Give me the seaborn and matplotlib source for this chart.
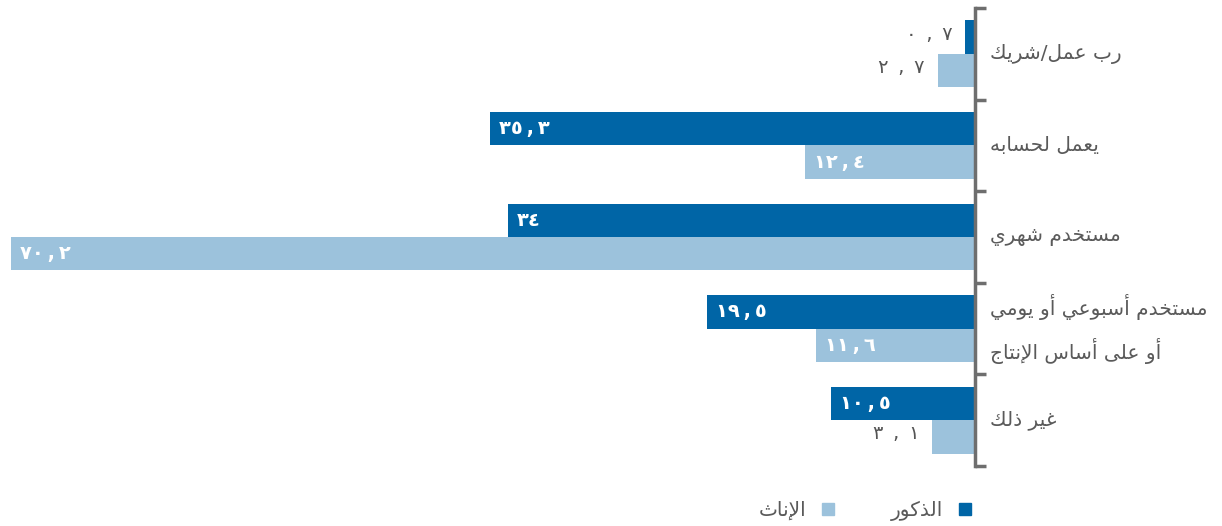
import matplotlib
matplotlib.use("Agg")
import matplotlib.pyplot as plt
import matplotlib.patches as mpatches
import seaborn as sns
import pandas as pd

categories = ["رب عمل/شريك", "يعمل لحسابه", "مستخدم شهري",
              "مستخدم أسبوعي أو يومي\nأو على أساس الإنتاج", "غير ذلك"]
series = ["الذكور", "الإناث"]
male = [0.7, 35.3, 34.0, 19.5, 10.5]
female = [2.7, 12.4, 70.2, 11.6, 3.1]
value_labels_m = ["٠,٧", "٣٥,٣", "٣٤", "١٩,٥", "١٠,٥"]
value_labels_f = ["٢,٧", "١٢,٤", "٧٠,٢", "١١,٦", "٣,١"]

DARK = "#0065a6"
LIGHT = "#9cc2dc"
GRAY = "#6e6e6e"

# minimal arabic shaping: (isolated, final, initial, medial)
FORMS = {
    "ا": (0xFE8D, 0xFE8E, None, None), "أ": (0xFE83, 0xFE84, None, None),
    "إ": (0xFE87, 0xFE88, None, None), "آ": (0xFE81, 0xFE82, None, None),
    "ب": (0xFE8F, 0xFE90, 0xFE91, 0xFE92), "ت": (0xFE95, 0xFE96, 0xFE97, 0xFE98),
    "ث": (0xFE99, 0xFE9A, 0xFE9B, 0xFE9C), "ج": (0xFE9D, 0xFE9E, 0xFE9F, 0xFEA0),
    "ح": (0xFEA1, 0xFEA2, 0xFEA3, 0xFEA4), "خ": (0xFEA5, 0xFEA6, 0xFEA7, 0xFEA8),
    "د": (0xFEA9, 0xFEAA, None, None), "ذ": (0xFEAB, 0xFEAC, None, None),
    "ر": (0xFEAD, 0xFEAE, None, None), "ز": (0xFEAF, 0xFEB0, None, None),
    "س": (0xFEB1, 0xFEB2, 0xFEB3, 0xFEB4), "ش": (0xFEB5, 0xFEB6, 0xFEB7, 0xFEB8),
    "ع": (0xFEC9, 0xFECA, 0xFECB, 0xFECC), "غ": (0xFECD, 0xFECE, 0xFECF, 0xFED0),
    "ك": (0xFED9, 0xFEDA, 0xFEDB, 0xFEDC), "ل": (0xFEDD, 0xFEDE, 0xFEDF, 0xFEE0),
    "م": (0xFEE1, 0xFEE2, 0xFEE3, 0xFEE4), "ن": (0xFEE5, 0xFEE6, 0xFEE7, 0xFEE8),
    "ه": (0xFEE9, 0xFEEA, 0xFEEB, 0xFEEC), "و": (0xFEED, 0xFEEE, None, None),
    "ى": (0xFEEF, 0xFEF0, None, None), "ي": (0xFEF1, 0xFEF2, 0xFEF3, 0xFEF4),
}
LAMALEF = {"آ": (0xFEF5, 0xFEF6), "أ": (0xFEF7, 0xFEF8),
           "إ": (0xFEF9, 0xFEFA), "ا": (0xFEFB, 0xFEFC)}


def joins_next(c):
    return c in FORMS and FORMS[c][2] is not None


def shape_line(text):
    res = []
    i, n = 0, len(text)
    while i < n:
        c = text[i]
        if c not in FORMS:
            res.append(c)
            i += 1
            continue
        prev = text[i - 1] if i > 0 else None
        cp = prev is not None and joins_next(prev)
        if c == "ل" and i + 1 < n and text[i + 1] in LAMALEF:
            lig = LAMALEF[text[i + 1]]
            res.append(chr(lig[1] if cp else lig[0]))
            i += 2
            continue
        nxt = text[i + 1] if i + 1 < n else None
        cn = joins_next(c) and nxt in FORMS
        iso, fin, ini, med = FORMS[c]
        if cp and cn:
            res.append(chr(med))
        elif cp:
            res.append(chr(fin))
        elif cn:
            res.append(chr(ini))
        else:
            res.append(chr(iso))
        i += 1
    return "".join(reversed(res))


def shape(text):
    return "\n".join(shape_line(l) for l in text.split("\n"))


cat_sh = [shape(c) for c in categories]
ser_sh = [shape(s) for s in series]
df = pd.DataFrame({
    "cat": cat_sh * 2,
    "sex": [ser_sh[0]] * 5 + [ser_sh[1]] * 5,
    "value": male + female,
})

sns.set_style("white")
plt.rcParams["font.family"] = ["DejaVu Sans"]

fig = plt.figure(figsize=(12.22, 5.26), dpi=100)
ax = fig.add_axes([11 / 1222, 1 - 466 / 526, 964 / 1222, 458 / 526])
sns.barplot(data=df, y="cat", x="value", hue="sex", orient="h",
            palette=[DARK, LIGHT], width=0.73, ax=ax, saturation=1,
            linewidth=0)
ax.get_legend().remove()
ax.set_xlim(70.2, 0)
ax.set_ylim(4.5, -0.5)
ax.set_xlabel("")
ax.set_ylabel("")
ax.set_xticks([])
for s in ["left", "top", "bottom"]:
    ax.spines[s].set_visible(False)
ax.spines["right"].set_color(GRAY)
ax.spines["right"].set_linewidth(2.5)
ax.yaxis.tick_right()
ax.set_yticks(range(5))
ax.set_yticklabels(cat_sh, fontsize=14.5, color="#5a5a5a", linespacing=1.85,
                   va="center")
ax.tick_params(axis="y", which="major", length=0, pad=11)
ax.set_yticks([i - 0.5 for i in range(6)], minor=True)
ax.tick_params(axis="y", which="minor", length=8, width=2.5, color=GRAY,
               direction="out", right=True, left=False)

for cont, labs in zip(ax.containers, [value_labels_m, value_labels_f]):
    for bar, lab in zip(cont, labs):
        v = bar.get_width()
        yc = bar.get_y() + bar.get_height() / 2
        if v > 5:
            ax.annotate(lab.replace(",", "\u2009,\u2009"), (v, yc), xytext=(9, 0),
                        textcoords="offset pixels", ha="left", va="center",
                        color="white", fontsize=14, fontweight="bold")
        else:
            ax.annotate(lab.replace(",", "\u2002,\u2002"), (v, yc), xytext=(-13, 3),
                        textcoords="offset pixels", ha="right", va="center",
                        color="#555555", fontsize=14)

handles = [mpatches.Patch(color=LIGHT), mpatches.Patch(color=DARK)]
fig.legend(handles, [ser_sh[1], ser_sh[0]], loc="center",
           bbox_to_anchor=(865 / 1222, 1 - 511 / 526), ncol=2, frameon=False,
           markerfirst=False, handlelength=0.6, handleheight=0.6,
           handletextpad=0.8, columnspacing=2.8, fontsize=14.5,
           labelcolor="#5a5a5a")

fig.savefig("out.png", dpi=100)
